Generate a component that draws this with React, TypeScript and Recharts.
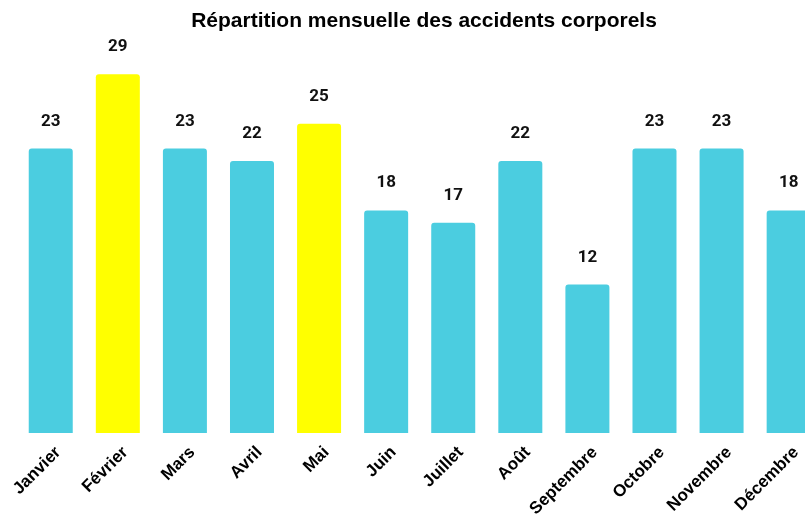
import { BarChart, Bar, XAxis, YAxis, Cell, LabelList } from 'recharts';

const months = ['Janvier', 'Février', 'Mars', 'Avril', 'Mai', 'Juin', 'Juillet', 'Août', 'Septembre', 'Octobre', 'Novembre', 'Décembre'];
const accidents = [23, 29, 23, 22, 25, 18, 17, 22, 12, 23, 23, 18];
const highlighted = ['Février', 'Mai'];

const data = months.map((m, i) => ({ month: m, value: accidents[i] }));

const CYAN = '#4BCDE0';
const YELLOW = '#FFFF00';

const MonthTick = (props: any) => {
  const { x, y, payload } = props;
  const ax = x + 11;
  const ay = y + 12;
  return (
    <text
      x={ax}
      y={ay}
      transform={`rotate(-45, ${ax}, ${ay})`}
      textAnchor="end"
      fontFamily='"Liberation Sans", Arial, sans-serif'
      fontWeight="bold"
      fontSize={17}
      fill="#000"
    >
      {payload.value}
    </text>
  );
};

export default function App() {
  return (
    <div style={{ position: 'fixed', top: 8, left: 8, width: 797, height: 509, overflow: 'hidden' }}>
      <div style={{ position: 'relative', width: 832, height: 510 }}>
        <div
          style={{
            position: 'absolute',
            top: 1,
            left: 0,
            width: 832,
            textAlign: 'center',
            fontFamily: '"Liberation Sans", Arial, sans-serif',
            fontWeight: 'bold',
            fontSize: 21,
            lineHeight: '22px',
            color: '#000',
          }}
        >
          Répartition mensuelle des accidents corporels
        </div>
        <BarChart
          width={832}
          height={510}
          data={data}
          margin={{ top: 54, right: 18, left: 9, bottom: 5 }}
          barCategoryGap="17.5%"
        >
          <XAxis
            dataKey="month"
            axisLine={false}
            tickLine={false}
            interval={0}
            height={80}
            tick={<MonthTick />}
          />
          <YAxis hide domain={[0, 30]} />
          <Bar dataKey="value" radius={[3, 3, 0, 0]} isAnimationActive={false}>
            {data.map((d) => (
              <Cell key={d.month} fill={highlighted.includes(d.month) ? YELLOW : CYAN} />
            ))}
            <LabelList
              dataKey="value"
              position="top"
              offset={23}
              fill="#111"
              fontFamily="Roboto, sans-serif"
              fontWeight="bold"
              fontSize={17}
            />
          </Bar>
        </BarChart>
      </div>
    </div>
  );
}
